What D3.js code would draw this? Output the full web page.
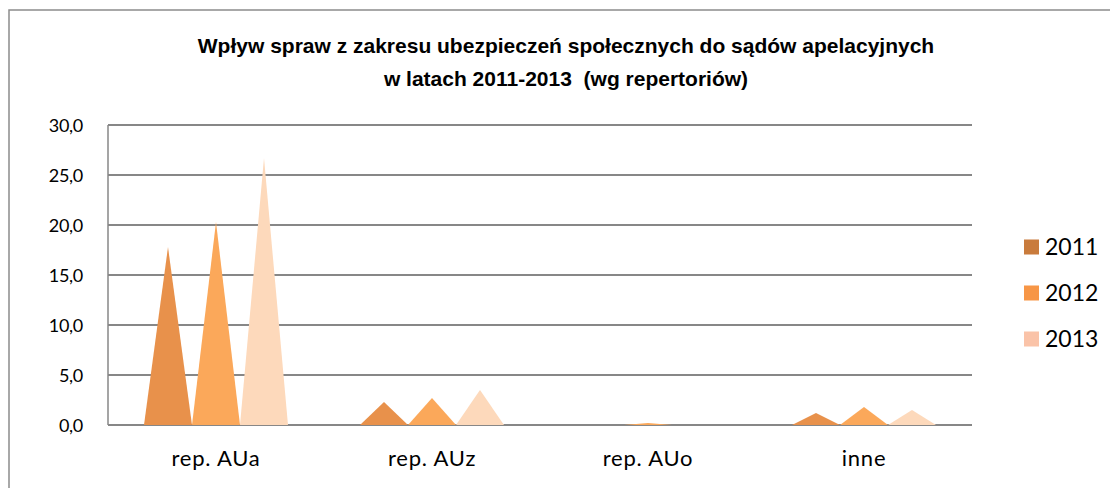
<!DOCTYPE html>
<html>
<head>
<meta charset="utf-8">
<script src="https://cdn.jsdelivr.net/npm/d3@7"></script>
<style>
  body { margin: 0; background: #fff; }
  text { font-family: Lato, "Open Sans", sans-serif; }
</style>
</head>
<body>
<div id="chart"></div>
<script>
// dane
var categories = ["rep. AUa", "rep. AUz", "rep. AUo", "inne"];
var years = ["2011", "2012", "2013"];
var v2011 = [17.8, 2.3, 0.0, 1.2];
var v2012 = [20.3, 2.7, 0.2, 1.8];
var v2013 = [26.7, 3.5, 0.0, 1.5];
var yTicks = [0, 5, 10, 15, 20, 25, 30];
var titleLines = ["Wpływ spraw z zakresu ubezpieczeń społecznych do sądów apelacyjnych",
                  "w latach 2011-2013  (wg repertoriów)"];

var series = [v2011, v2012, v2013];
var markColors = ["#e8914b", "#fba85a", "#fdd9bb"];
var legendColors = ["#c97b3c", "#f79646", "#fac3a8"];

const width = 1110;
const height = 488;
const plot = {left: 108, right: 972, top: 125, bottom: 425};

const svg = d3.select('#chart').append('svg').attr('width', width).attr('height', height);

// ramka wykresu
svg.append('rect')
    .attr('x', 9).attr('y', 10)
    .attr('width', width + 20).attr('height', height + 20)
    .attr('fill', 'none')
    .attr('stroke', '#8c8c8c')
    .attr('stroke-width', 1.5);

// tytuł
svg.append('g')
    .selectAll('text')
    .data(titleLines)
    .enter()
    .append('text')
    .attr('x', 566)
    .attr('y', (d, i) => 53 + i * 33)
    .attr('text-anchor', 'middle')
    .style('white-space', 'pre')
    .style('font-family', '"Liberation Sans", Arial, sans-serif')
    .style('font-weight', 'bold')
    .style('font-size', '21px')
    .text(d => d);

const y = d3.scaleLinear().domain([0, 30]).range([plot.bottom, plot.top]);
const x0 = d3.scaleBand().domain(categories).range([plot.left, plot.right]);
const x1 = d3.scaleBand().domain(years).range([36, x0.bandwidth() - 36]);

// linie siatki
svg.append('g')
    .selectAll('line')
    .data(yTicks)
    .enter()
    .append('line')
    .attr('x1', plot.left).attr('x2', plot.right)
    .attr('y1', d => y(d)).attr('y2', d => y(d))
    .attr('stroke', '#878787')
    .attr('stroke-width', 2);

svg.append('line')
    .attr('x1', plot.left).attr('x2', plot.left)
    .attr('y1', plot.top).attr('y2', plot.bottom)
    .attr('stroke', '#878787')
    .attr('stroke-width', 1.5);

// oś Y
const fmt = d3.format('.1f');
const yAxis = d3.axisLeft(y)
    .tickValues(yTicks)
    .tickSize(0)
    .tickPadding(25)
    .tickFormat(d => fmt(d).replace('.', ','));
const gy = svg.append('g').attr('transform', `translate(${plot.left},0)`).call(yAxis);
gy.select('.domain').remove();
gy.selectAll('text')
    .style('font-size', '18px')
    .style('letter-spacing', '-0.3px')
    .style('fill', '#000')
    .attr('dy', '0.36em');

// oś X
const xAxis = d3.axisBottom(x0).tickSize(0).tickPadding(25);
const gx = svg.append('g').attr('transform', `translate(0,${plot.bottom})`).call(xAxis);
gx.select('.domain').remove();
gx.selectAll('text')
    .style('font-size', '22px')
    .style('letter-spacing', '0.8px')
    .style('fill', '#000');

// trójkąty
series.forEach(function(vals, si) {
    svg.append('g')
        .selectAll('path')
        .data(vals)
        .enter()
        .append('path')
        .attr('d', function(d, i) {
            var xl = x0(categories[i]) + x1(years[si]);
            var xr = xl + x1.bandwidth();
            var xm = (xl + xr) / 2;
            return 'M' + xl + ',' + y(0) + 'L' + xm + ',' + y(d) + 'L' + xr + ',' + y(0) + 'Z';
        })
        .attr('fill', markColors[si]);
});

// legenda
const legend = svg.append('g').attr('transform', 'translate(1024,0)');
years.forEach(function(yr, i) {
    var cy = 247 + i * 46;
    legend.append('rect')
        .attr('x', 0).attr('y', cy - 7.5)
        .attr('width', 15).attr('height', 15)
        .attr('fill', legendColors[i]);
    legend.append('text')
        .attr('x', 21).attr('y', cy)
        .attr('dy', '0.36em')
        .style('font-size', '23px')
        .text(yr);
});
</script>
</body>
</html>
